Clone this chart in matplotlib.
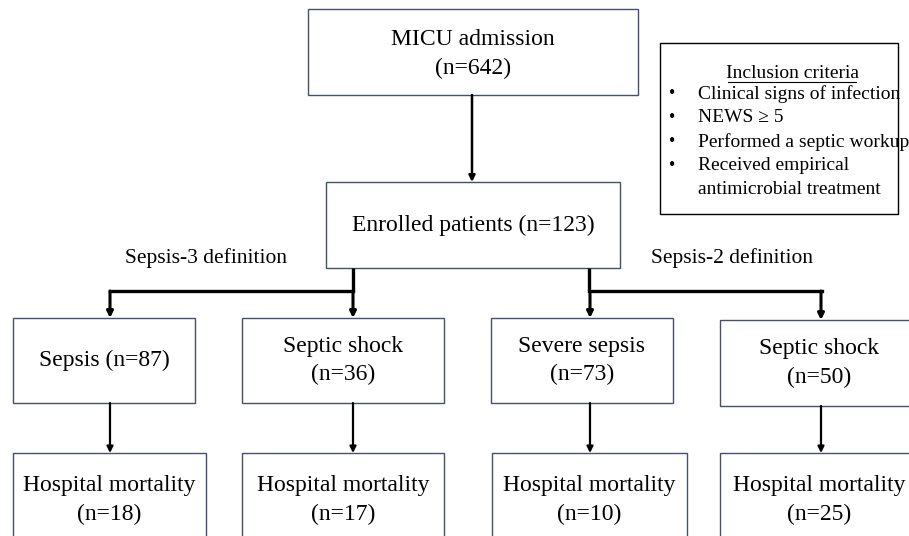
import matplotlib.pyplot as plt
from matplotlib.patches import Rectangle

plt.rcParams["font.family"] = ["Liberation Serif", "DejaVu Serif"]

# flow chart content
top_labels = ["MICU admission", "Enrolled patients"]
top_n = [642, 123]
definitions = ["Sepsis-3 definition", "Sepsis-2 definition"]
group_labels = ["Sepsis", "Septic shock", "Severe sepsis", "Septic shock"]
group_n = [87, 36, 73, 50]
outcome_label = "Hospital mortality"
mortality_n = [18, 17, 10, 25]
criteria_title = "Inclusion criteria"
criteria = [
    "Clinical signs of infection",
    "NEWS \u2265 5",
    "Performed a septic workup",
    "Received empirical\nantimicrobial treatment",
]

# layout in pixel coordinates (x, y from top)
BOX_EDGE = "#44506c"
top_boxes = [(308, 9, 638, 95), (326, 182, 620, 268)]
group_boxes = [(13, 318, 195, 403), (242, 318, 444, 403), (491, 318, 673, 403), (720, 320, 918, 406)]
group_two_line = [False, True, True, True]
out_boxes = [(13, 453, 206, 560), (242, 453, 444, 560), (492, 453, 687, 560), (720, 453, 918, 560)]
arrow_x = [110, 353, 590, 821]
branch_x = [353, 589]
def_x = [206, 732]


def box(ax, b, text, color=BOX_EDGE, lw=1.0, size=17, cy=None):
    x0, y0, x1, y1 = b
    ax.add_patch(Rectangle((x0, y0), x1 - x0, y1 - y0, fill=False, ec=color, lw=lw))
    if cy is None:
        cy = (y0 + y1) / 2
    ax.text((x0 + x1) / 2, cy, text, ha="center", va="center", fontsize=size, linespacing=1.45)


def arrow(ax, x, y0, y1, lw):
    ax.annotate("", xy=(x, y1), xytext=(x, y0),
                arrowprops=dict(arrowstyle="-|>", lw=lw, color="black",
                                shrinkA=0, shrinkB=0, mutation_scale=9))


fig = plt.figure(figsize=(9.09, 5.36), dpi=100)
ax = fig.add_axes([0, 0, 1, 1])
ax.set_xlim(0, 909)
ax.set_ylim(536, 0)
ax.axis("off")

# top boxes
box(ax, top_boxes[0], f"{top_labels[0]}\n(n={top_n[0]})", cy=54)
box(ax, top_boxes[1], f"{top_labels[1]} (n={top_n[1]})")
arrow(ax, 472, 95, 182, 1.8)

# inclusion criteria
ax.add_patch(Rectangle((660, 43), 238, 171, fill=False, ec="black", lw=1.0))
ax.text(792, 73, criteria_title, ha="center", va="center", fontsize=14)
ax.plot([728, 856], [82, 82], color="black", lw=0.8)
line_y = [94, 118, 142, 166, 190]
k = 0
for c in criteria:
    for j, part in enumerate(c.split("\n")):
        if j == 0:
            ax.text(672, line_y[k], "\u2022", ha="center", va="center", fontsize=13)
        ax.text(698, line_y[k], part, ha="left", va="center", fontsize=14)
        k += 1

# definition branches
for bx, (lx, rx), label, dx in zip(branch_x, [(110, 353), (589, 822)], definitions, def_x):
    ax.plot([bx, bx], [268, 291], color="black", lw=2.4, solid_capstyle="butt")
    ax.plot([lx, rx], [291, 291], color="black", lw=2.4, solid_capstyle="projecting")
    ax.text(dx, 258, label, ha="center", va="center", fontsize=15.5)
for x, b in zip(arrow_x, group_boxes):
    arrow(ax, x, 291, b[1], 2.2)

# groups and outcomes
for b, lab, n, two in zip(group_boxes, group_labels, group_n, group_two_line):
    txt = f"{lab}\n(n={n})" if two else f"{lab} (n={n})"
    box(ax, b, txt)
for x, gb, ob, n in zip(arrow_x, group_boxes, out_boxes, mortality_n):
    arrow(ax, x, gb[3], ob[1], 1.6)
    box(ax, ob, f"{outcome_label}\n(n={n})", cy=500)

fig.savefig("out.png", dpi=100)
